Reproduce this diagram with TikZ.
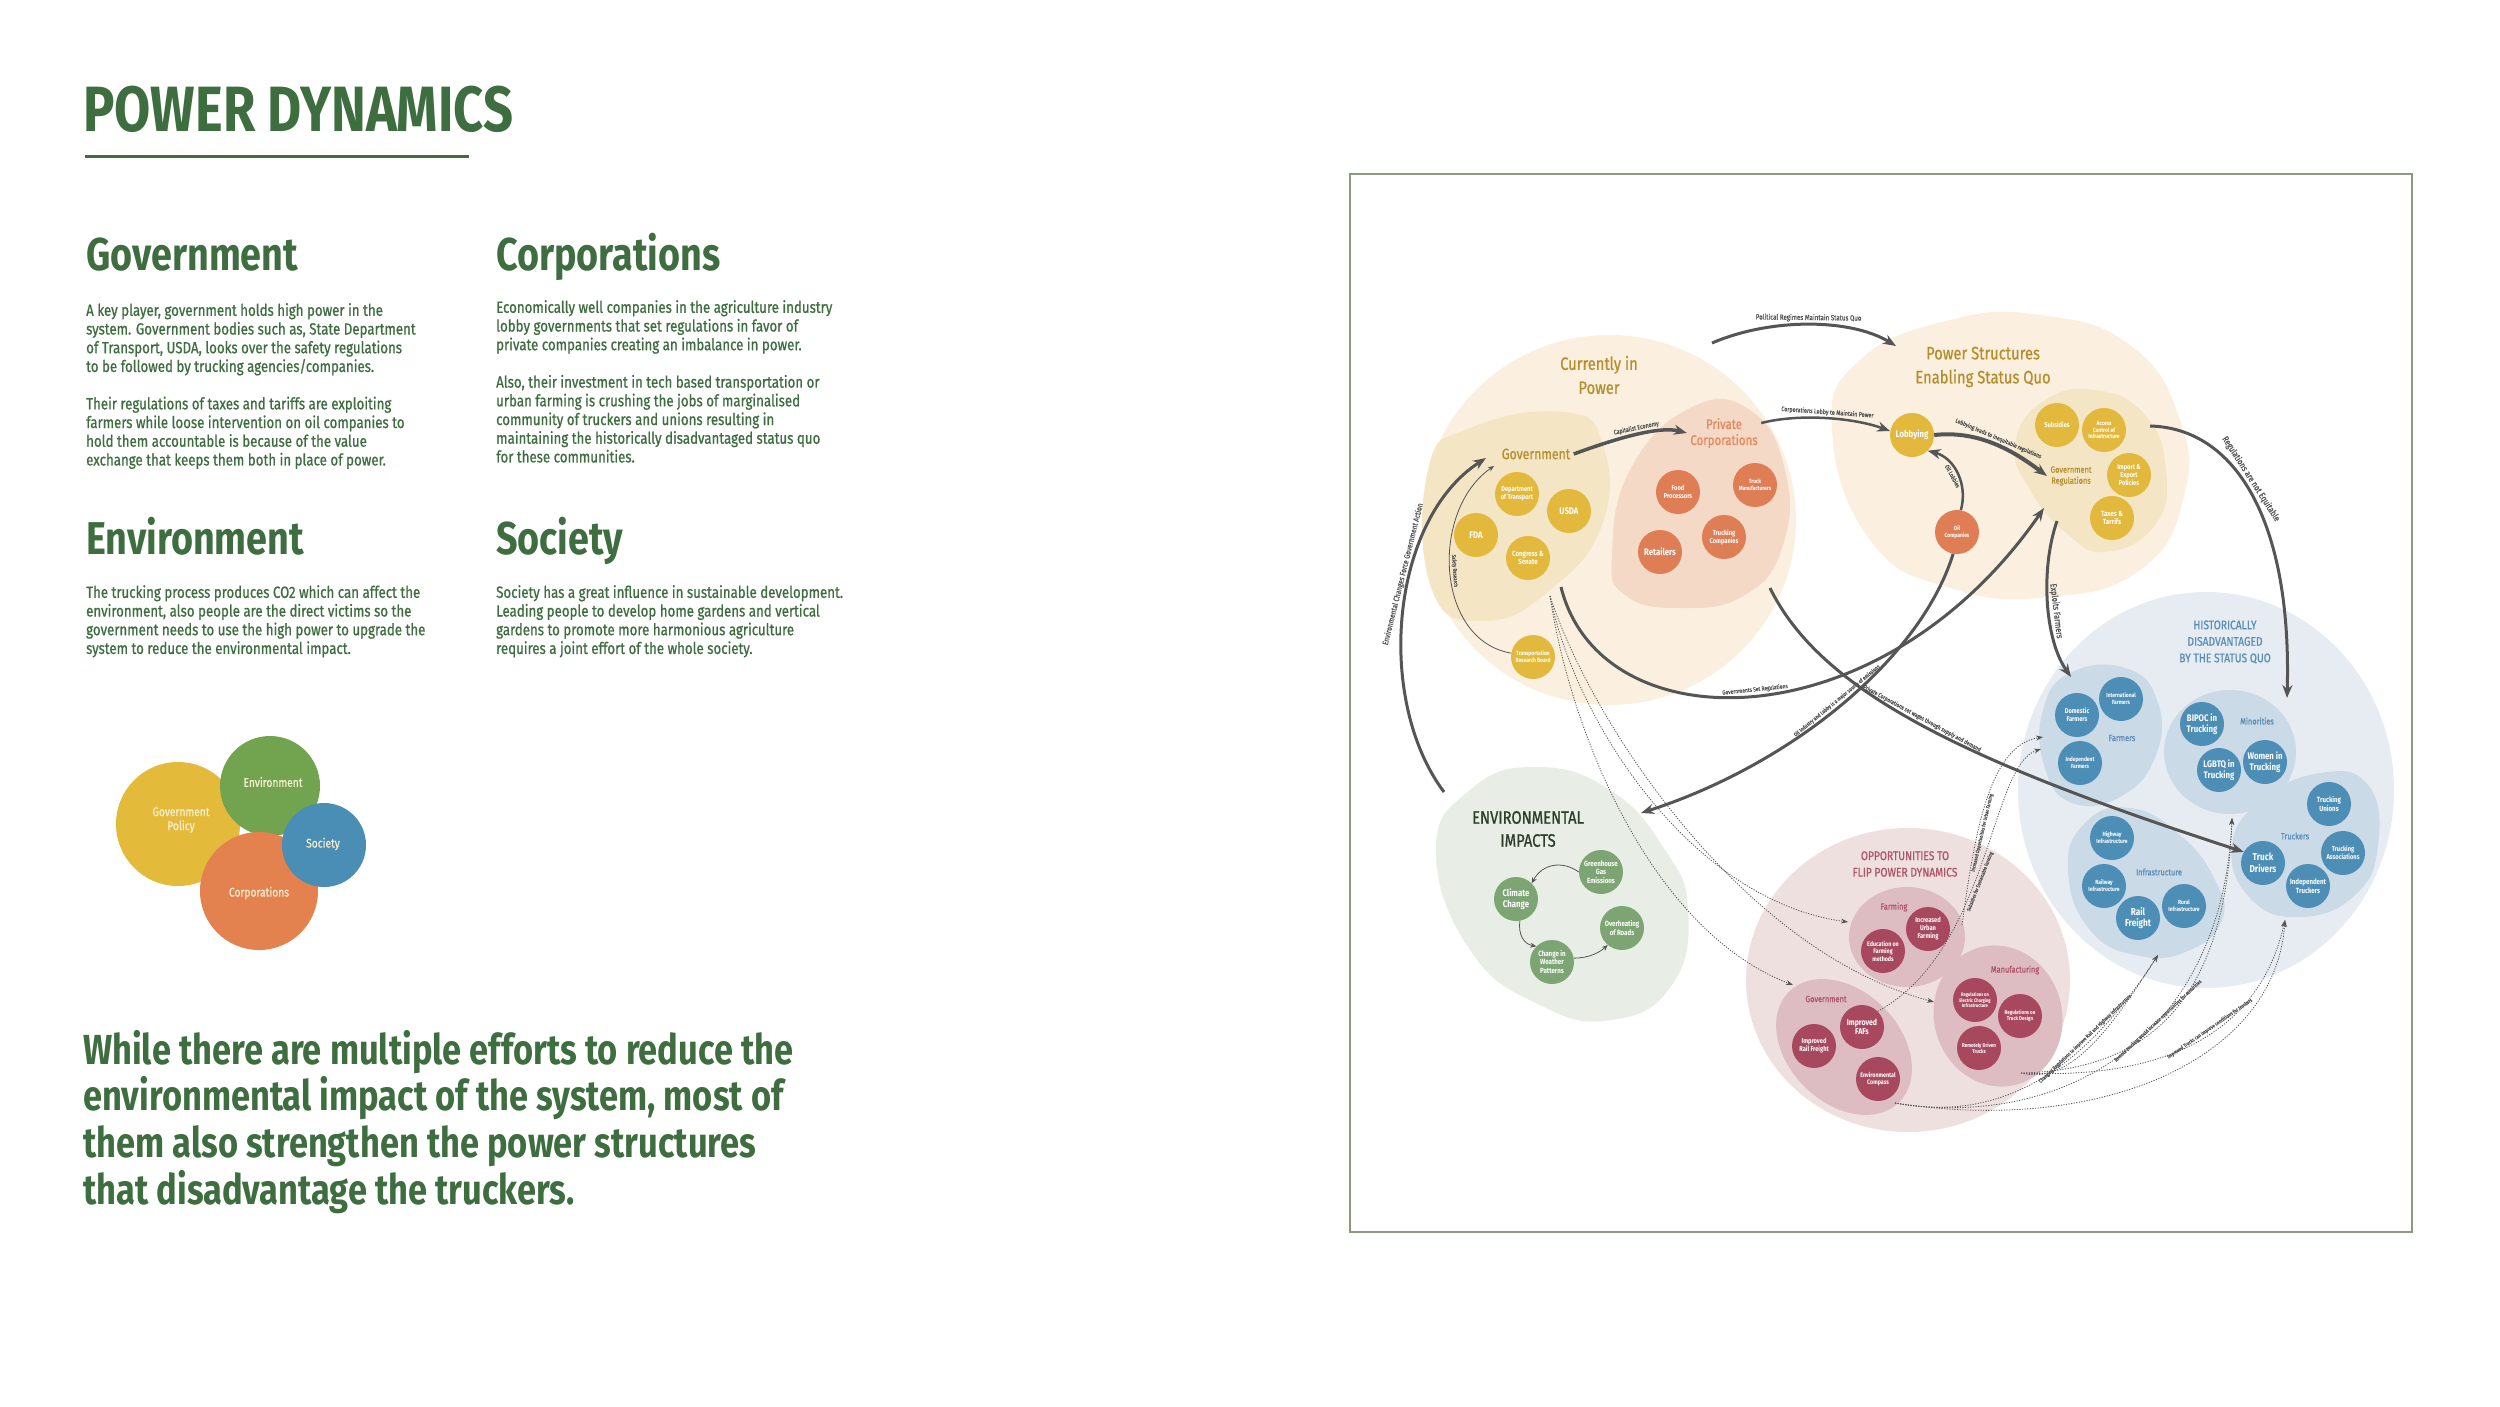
\documentclass[tikz,border=0pt]{standalone}
\usepackage{fontspec}
\setmainfont{Fira Sans}[FakeStretch=0.82]
\newfontfamily\medfont{Fira Sans}[FakeStretch=0.82, FakeBold=0.8]
\usetikzlibrary{arrows.meta}
\newcommand\setfs[2]{\fontsize{#1}{#2}\selectfont}
\definecolor{titlegreen}{HTML}{3E6D3F}
\definecolor{cream}{HTML}{FBF0DF}
\definecolor{govsub}{HTML}{F4E6C4}
\definecolor{pcsub}{HTML}{F4DAC6}
\definecolor{gold}{HTML}{E2B83D}
\definecolor{goldtext}{HTML}{B48F2E}
\definecolor{rust}{HTML}{DF7D55}
\definecolor{rusttext}{HTML}{E2895F}
\definecolor{bluebg}{HTML}{E6ECF1}
\definecolor{bluesub}{HTML}{CADAE7}
\definecolor{bluenode}{HTML}{4D8EB6}
\definecolor{bluetext}{HTML}{5A8EB5}
\definecolor{sagebg}{HTML}{E8EDE5}
\definecolor{sagenode}{HTML}{7DA574}
\definecolor{sagetext}{HTML}{2E3D2B}
\definecolor{rosebg}{HTML}{EFE0E0}
\definecolor{rosesub}{HTML}{DDBCC2}
\definecolor{rosenode}{HTML}{A8485F}
\definecolor{rosetext}{HTML}{AE5468}
\definecolor{arrowgrey}{HTML}{555555}
\definecolor{framegreen}{HTML}{8B9B7B}
\definecolor{vgold}{HTML}{E3BA3A}
\definecolor{vgreen}{HTML}{72A34F}
\definecolor{vblue}{HTML}{4A8DB5}
\definecolor{vorange}{HTML}{E3814F}
\definecolor{venntext}{HTML}{F8EFD0}
\tikzset{
  heading/.style={anchor=base west, inner sep=0pt, text=titlegreen, font=\bfseries\setfs{46}{46}},
  bodytext/.style={anchor=north west, inner sep=0pt, align=left, text=titlegreen, font=\medfont\setfs{16.2}{18.7}},
  venn/.style={align=center, text=venntext, font=\medfont\setfs{12.5}{14}},
  circ/.style={circle, minimum size=44pt, inner sep=0pt, align=center, text=white, font=\bfseries\setfs{7}{8}},
  goldcirc/.style={circ, fill=gold},
  rustcirc/.style={circ, fill=rust},
  bluecirc/.style={circ, fill=bluenode},
  sagecirc/.style={circ, fill=sagenode},
  rosecirc/.style={circ, fill=rosenode},
  bigtxt/.style={font=\bfseries\setfs{9.5}{11}},
  midtxt/.style={font=\bfseries\setfs{7.5}{8.5}},
  smalltxt/.style={font=\bfseries\setfs{6}{6.8}},
  tinytxt/.style={font=\bfseries\setfs{5}{5.7}},
  grouptitle/.style={align=center, font=\medfont\setfs{18}{24}},
  capstitle/.style={align=center, font=\medfont\setfs{12.5}{16.5}},
  grouplbl/.style={align=center, font=\medfont\setfs{14}{16}},
  sublbl/.style={align=center, font=\medfont\setfs{9}{11}},
  flow/.style={draw=arrowgrey, line width=3pt, -{Stealth[length=13pt,width=10pt]}},
  thinflow/.style={draw=arrowgrey, line width=0.8pt, -{Stealth[length=6pt,width=5pt]}},
  dotflow/.style={draw=arrowgrey, line width=0.8pt, dash pattern=on 1.2pt off 1.4pt, -{Stealth[length=7pt,width=5pt]}},
  flowlbl/.style={sloped, above, inner sep=1.5pt, text=arrowgrey, font=\medfont\setfs{6.5}{7}},
}
\begin{document}
\begin{tikzpicture}[x=1pt,y=-1pt]
\useasboundingbox (0,0) rectangle (2500,1406);
\fill[white] (0,0) rectangle (2500,1406);

% left column
\node[anchor=base west, inner sep=0pt, text=titlegreen, font=\bfseries\setfs{64}{64}] (title) at (83,131) {POWER DYNAMICS};
\draw[titlegreen, line width=3pt] (85,156) -- (469,156);

\node[heading] (govhd) at (86,270) {Government};
\node[bodytext] (govtxt) at (86,303) {A key player, government holds high power in the\\
system. Government bodies such as, State Department\\
of Transport, USDA, looks over the safety regulations\\
to be followed by trucking agencies/companies.\\[18.7pt]
Their regulations of taxes and tariffs are exploiting\\
farmers while loose intervention on oil companies to\\
hold them accountable is because of the value\\
exchange that keeps them both in place of power.};

\node[heading] (corphd) at (496,270) {Corporations};
\node[bodytext] (corptxt) at (496,300) {Economically well companies in the agriculture industry\\
lobby governments that set regulations in favor of\\
private companies creating an imbalance in power.\\[18.7pt]
Also, their investment in tech based transportation or\\
urban farming is crushing the jobs of marginalised\\
community of truckers and unions resulting in\\
maintaining the historically disadvantaged status quo\\
for these communities.};

\node[heading] (envhd) at (86,554) {Environment};
\node[bodytext] (envtxt) at (86,585) {The trucking process produces CO2 which can affect the\\
environment, also people are the direct victims so the\\
government needs to use the high power to upgrade the\\
system to reduce the environmental impact.};

\node[heading] (sochd) at (496,554) {Society};
\node[bodytext] (soctxt) at (496,585) {Society has a great influence in sustainable development.\\
Leading people to develop home gardens and vertical\\
gardens to promote more harmonious agriculture\\
requires a joint effort of the whole society.};

\fill[vgold] (178,824) circle[radius=62];
\fill[vgreen] (270,786) circle[radius=50];
\fill[vorange] (259,891) circle[radius=59];
\fill[vblue] (324,845) circle[radius=42];
\node[venn] (vgov) at (181,820) {Government\\Policy};
\node[venn] (venv) at (273,782) {Environment};
\node[venn] (vsoc) at (323,844) {Society};
\node[venn] (vcorp) at (259,893) {Corporations};

\node[anchor=north west, inner sep=0pt, align=left, text=titlegreen, font=\bfseries\setfs{42}{46.6}] (summary) at (83,1030) {While there are multiple efforts to reduce the\\
environmental impact of the system, most of\\
them also strengthen the power structures\\
that disadvantage the truckers.};

% map frame
\draw[framegreen, line width=1.5pt] (1350,174) rectangle (2412,1232);

% blobs
\fill[cream] (1609,520) ellipse[x radius=187, y radius=185];
\fill[govsub] plot[smooth cycle, tension=0.8] coordinates {(1428,470) (1470,428) (1565,412) (1603,445) (1602,525) (1550,590) (1485,621) (1432,590)};
\fill[pcsub] plot[smooth cycle, tension=0.8] coordinates {(1612,555) (1630,470) (1690,408) (1750,410) (1785,470) (1783,545) (1745,595) (1680,608) (1625,595)};
\fill[cream] plot[smooth cycle, tension=0.8] coordinates {(1832,430) (1860,360) (1950,320) (2040,315) (2130,345) (2180,420) (2183,500) (2140,570) (2050,597) (1950,588) (1870,540)};
\fill[govsub] plot[smooth cycle, tension=0.8] coordinates {(2015,445) (2042,402) (2095,390) (2145,415) (2166,470) (2155,525) (2105,552) (2065,532) (2030,490)};
\fill[bluebg] (2206,790) ellipse[x radius=188, y radius=198];
\fill[bluesub] plot[smooth cycle, tension=0.8] coordinates {(2043,710) (2070,673) (2125,668) (2157,700) (2156,755) (2120,797) (2070,802) (2044,765)};
\fill[bluesub] (2230,752) ellipse[x radius=66, y radius=62];
\fill[bluesub] plot[smooth cycle, tension=0.8] coordinates {(2232,845) (2262,800) (2320,773) (2368,785) (2378,845) (2355,895) (2300,917) (2250,898)};
\fill[bluesub] plot[smooth cycle, tension=0.8] coordinates {(2068,870) (2085,823) (2130,808) (2180,835) (2215,880) (2222,920) (2190,950) (2140,956) (2090,930)};
\fill[sagebg] plot[smooth cycle, tension=0.8] coordinates {(1436,850) (1470,790) (1535,767) (1610,790) (1665,850) (1688,910) (1672,985) (1612,1020) (1540,1005) (1470,950)};
\fill[rosebg] (1908,980) ellipse[x radius=162, y radius=152];
\fill[rosesub] (1907,937) ellipse[x radius=58, y radius=50];
\fill[rosesub, rotate around={-45:(1844,1047)}] (1844,1047) ellipse[x radius=78, y radius=56];
\fill[rosesub, rotate around={15:(1998,1016)}] (1998,1016) ellipse[x radius=64, y radius=71];

% currently in power
\node[grouptitle, text=goldtext] (cipttl) at (1599,375) {Currently in\\Power};
\node[grouplbl, text=goldtext, font=\medfont\setfs{15}{16}] (govlbl) at (1536,454) {Government};
\node[goldcirc] (dept) at (1517,494) {Department\\of Transport};
\node[goldcirc, bigtxt] (usda) at (1569,511) {USDA};
\node[goldcirc, bigtxt] (fda) at (1476,535) {FDA};
\node[goldcirc, midtxt] (congress) at (1528,558) {Congress \&\\Senate};
\node[goldcirc, smalltxt] (trb) at (1533,657) {Transportation\\Research Board};
\node[grouplbl, text=rusttext] (pclbl) at (1724,433) {Private\\Corporations};
\node[rustcirc] (food) at (1678,492) {Food\\Processors};
\node[rustcirc, smalltxt] (truckman) at (1755,485) {Truck\\Manufacturers};
\node[rustcirc] (truckco) at (1724,537) {Trucking\\Companies};
\node[rustcirc, bigtxt] (retail) at (1660,552) {Retailers};

% power structures
\node[grouptitle, text=goldtext] (psttl) at (1983,367) {Power Structures\\Enabling Status Quo};
\node[goldcirc, bigtxt] (lobby) at (1912,435) {Lobbying};
\node[rustcirc, smalltxt] (oilco) at (1957,532) {Oil\\Companies};
\node[goldcirc] (subs) at (2057,425) {Subsidies};
\node[goldcirc, smalltxt] (access) at (2104,430) {Access\\Control of\\Infrastructure};
\node[sublbl, text=goldtext] (regslbl) at (2071,476) {Government\\Regulations};
\node[goldcirc] (impexp) at (2129,475) {Import \&\\Export\\Policies};
\node[goldcirc, midtxt] (taxes) at (2112,518) {Taxes \&\\Tarrifs};

% historically disadvantaged
\node[capstitle, text=bluetext] (histttl) at (2225,642) {HISTORICALLY\\DISADVANTAGED\\BY THE STATUS QUO};
\node[bluecirc] (domestic) at (2077,715) {Domestic\\Farmers};
\node[bluecirc, smalltxt] (intl) at (2121,699) {International\\Farmers};
\node[bluecirc, smalltxt] (indfarm) at (2080,763) {Independent\\Farmers};
\node[sublbl, text=bluetext] (farmerslbl) at (2122,738) {Farmers};
\node[bluecirc, bigtxt] (bipoc) at (2202,724) {BIPOC in\\Trucking};
\node[sublbl, text=bluetext] (minorlbl) at (2257,721) {Minorities};
\node[bluecirc, bigtxt] (lgbtq) at (2219,770) {LGBTQ in\\Trucking};
\node[bluecirc, bigtxt] (women) at (2265,762) {Women in\\Trucking};
\node[bluecirc, midtxt] (unions) at (2329,804) {Trucking\\Unions};
\node[sublbl, text=bluetext] (truckerslbl) at (2295,836) {Truckers};
\node[bluecirc, font=\bfseries\setfs{10}{11.5}] (drivers) at (2263,863) {Truck\\Drivers};
\node[bluecirc] (assoc) at (2343,853) {Trucking\\Associations};
\node[bluecirc, midtxt] (indtruck) at (2308,886) {Independent\\Truckers};
\node[bluecirc, smalltxt] (highway) at (2112,838) {Highway\\Infrastructure};
\node[bluecirc, smalltxt] (railway) at (2104,886) {Railway\\Infrastructure};
\node[sublbl, text=bluetext] (infralbl) at (2159,872) {Infrastructure};
\node[bluecirc, font=\bfseries\setfs{10}{11.5}] (railfr) at (2138,918) {Rail\\Freight};
\node[bluecirc, smalltxt] (rural) at (2184,906) {Rural\\Infrastructure};

% environmental impacts
\node[align=center, text=sagetext, font=\medfont\setfs{18}{23}] (envttl) at (1528,829) {ENVIRONMENTAL\\IMPACTS};
\node[sagecirc, midtxt] (greenhouse) at (1601,872) {Greenhouse\\Gas\\Emissions};
\node[sagecirc, bigtxt] (climate) at (1516,899) {Climate\\Change};
\node[sagecirc, midtxt] (overheat) at (1622,928) {Overheating\\of Roads};
\node[sagecirc, midtxt] (weather) at (1552,962) {Change in\\Weather\\Patterns};

% opportunities
\node[capstitle, text=rosetext] (oppttl) at (1905,864) {OPPORTUNITIES TO\\FLIP POWER DYNAMICS};
\node[sublbl, text=rosetext] (farminglbl) at (1894,907) {Farming};
\node[rosecirc] (urban) at (1928,929) {Increased\\Urban\\Farming};
\node[rosecirc, font=\bfseries\setfs{6.5}{7.5}] (educ) at (1883,951) {Education on\\Farming\\methods};
\node[sublbl, text=rosetext] (oppgovlbl) at (1826,999) {Government};
\node[rosecirc, font=\bfseries\setfs{8.5}{9.5}] (fafs) at (1862,1027) {Improved\\FAFs};
\node[rosecirc] (railimp) at (1814,1046) {Improved\\Rail Freight};
\node[rosecirc, font=\bfseries\setfs{6.5}{7.5}] (compass) at (1878,1079) {Environmental\\Compass};
\node[sublbl, text=rosetext] (manulbl) at (2015,970) {Manufacturing};
\node[rosecirc, tinytxt] (regelec) at (1975,1000) {Regulations on\\Electric Charging\\Infrastructure};
\node[rosecirc, font=\bfseries\setfs{5.5}{6.3}] (regtruck) at (2020,1016) {Regulations on\\Truck Design};
\node[rosecirc, font=\bfseries\setfs{5.5}{6.3}] (remote) at (1979,1048) {Remotely Driven\\Trucks};

% connector ends on the blobs
\coordinate (cipout) at (1712,343);
\coordinate (psin) at (1896,346);
\coordinate (regsout) at (2150,426);
\coordinate (minorin) at (2287,698);
\coordinate (regsdown) at (2057,521);
\coordinate (farmin) at (2071,677);
\coordinate (envout) at (1444,792);
\coordinate (govin) at (1486,458);
\coordinate (govin2) at (1494,466);
\coordinate (govdown) at (1561,587);
\coordinate (regsin) at (2044,508);
\coordinate (envin) at (1641,813);
\coordinate (pcout) at (1770,588);
\coordinate (govdots) at (1550,596);
\coordinate (farmingL) at (1848,922);
\coordinate (oppgovT) at (1793,985);
\coordinate (manuL) at (1934,1002);
\coordinate (farmingR) at (1962,925);
\coordinate (farmersL) at (2043,737);
\coordinate (farmersL2) at (2041,749);
\coordinate (compout) at (1895,1103);
\coordinate (manuout) at (2021,1073);
\coordinate (infraB) at (2158,955);
\coordinate (minorB) at (2232,818);
\coordinate (truckB) at (2285,920);

% solid connectors
\draw[flow] (cipout) .. controls (1770,318) and (1850,318) .. (psin) node[flowlbl, midway, font=\medfont\setfs{7.5}{8}] {Political Regimes Maintain Status Quo};
\draw[flow, line width=3.5pt] (govlbl.east) .. controls (1620,437) and (1660,426) .. (pclbl.west) node[flowlbl, midway] {Capitalist Economy};
\draw[flow, line width=2.5pt] (pclbl.15) .. controls (1800,413) and (1855,418) .. (lobby.170) node[flowlbl, midway] {Corporations Lobby to Maintain Power};
\draw[flow, line width=4pt] (lobby.east) .. controls (1980,430) and (2015,452) .. (regslbl.west) node[flowlbl, midway, font=\medfont\setfs{6}{7}] {Lobbying leads to inequitable regulations};
\draw[flow, line width=2.5pt] (oilco.80) .. controls (1968,485) and (1955,458) .. (lobby.-45) node[flowlbl, below, midway, font=\medfont\setfs{6}{7}] {Oil Lobbies};
\draw[flow] (regsout) .. controls (2235,428) and (2292,520) .. (minorin) node[flowlbl, pos=0.45, font=\medfont\setfs{9}{10}] {Regulations are not Equitable};
\draw[flow] (regsdown) .. controls (2040,570) and (2045,640) .. (farmin) node[flowlbl, pos=0.55, font=\medfont\setfs{9}{10}] {Exploits Farmers};
\draw[flow] (envout) .. controls (1375,700) and (1390,520) .. (govin) node[flowlbl, pos=0.6, font=\medfont\setfs{8}{9}] {Environmental Changes Force Government Action};
\draw[thinflow] (trb.170) .. controls (1435,640) and (1430,510) .. (govin2) node[flowlbl, pos=0.5, font=\medfont\setfs{5.5}{6}] {Safety Research};
\draw[flow] (govdown) .. controls (1600,745) and (1880,745) .. (regsin) node[flowlbl, pos=0.5, font=\medfont\setfs{6}{7}] {Governments Set Regulations};
\draw[flow] (oilco.-100) .. controls (1920,660) and (1790,765) .. (envin) node[flowlbl, pos=0.5, font=\medfont\setfs{5.5}{6}] {Oil Industry and Lobby is a major source of emissions};
\draw[flow] (pcout) .. controls (1820,690) and (1960,760) .. (drivers.150) node[flowlbl, pos=0.5, font=\medfont\setfs{6}{7}] {Private Corporations set wages through supply and demand};

% environmental cycle
\draw[thinflow] (greenhouse.180) .. controls (1562,860) and (1542,864) .. (climate.45);
\draw[thinflow] (climate.-80) .. controls (1518,935) and (1524,944) .. (weather.135);
\draw[thinflow] (weather.10) .. controls (1590,958) and (1600,952) .. (overheat.-130);

% dotted connectors
\draw[dotflow] (govdots) .. controls (1575,720) and (1690,900) .. (farmingL);
\draw[dotflow] (govdots) .. controls (1570,730) and (1650,930) .. (oppgovT);
\draw[dotflow] (govdots) .. controls (1590,720) and (1740,950) .. (manuL);
\draw[dotflow] (farmingR) .. controls (1975,830) and (1990,745) .. (farmersL) node[flowlbl, below, pos=0.35, font=\medfont\setfs{5}{6}] {Increased Opportunities for Urban Farming};
\draw[dotflow] (fafs.45) .. controls (1990,950) and (1990,765) .. (farmersL2) node[flowlbl, below, pos=0.45, font=\medfont\setfs{5}{6}] {Subsidies for Sustainable Farming};
\draw[dotflow] (compout) .. controls (2010,1125) and (2090,1060) .. (infraB) node[flowlbl, pos=0.68, font=\medfont\setfs{5.2}{6}] {Changing Regulations to improve Rail and Highway Infrastructure};
\draw[dotflow] (manuout) .. controls (2070,1085) and (2110,1030) .. (infraB);
\draw[dotflow] (manuout) .. controls (2150,1070) and (2225,1000) .. (minorB) node[flowlbl, pos=0.45, font=\medfont\setfs{5.2}{6}] {Remote trucking would increase opportunities for minorities};
\draw[dotflow] (compout) .. controls (2060,1130) and (2222,1040) .. (minorB);
\draw[dotflow] (manuout) .. controls (2170,1080) and (2260,1030) .. (truckB) node[flowlbl, pos=0.55, font=\medfont\setfs{5.2}{6}] {Improved Trucks can improve conditions for truckers};
\draw[dotflow] (compout) .. controls (2100,1135) and (2275,1060) .. (truckB);
\end{tikzpicture}
\end{document}
